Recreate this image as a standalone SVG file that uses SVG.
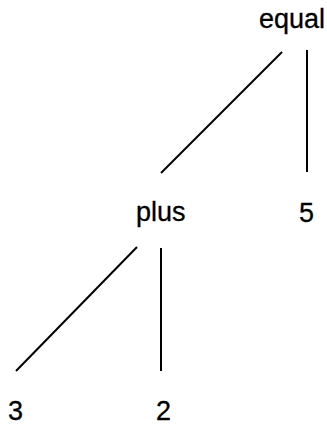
<svg xmlns="http://www.w3.org/2000/svg" width="327" height="425" viewBox="0 0 327 425">
<style>
.lbl{font-family:"Liberation Sans",Arial,sans-serif;font-size:27px;fill:#000;stroke:#000;stroke-width:0.3}
.edge{stroke:#000;stroke-width:2;fill:none;stroke-linecap:butt}
</style>
<rect width="327" height="425" fill="#fff"/>
<g id="edges">
<line class="edge" x1="282" y1="52" x2="161" y2="173"/>
<line class="edge" x1="307" y1="50" x2="307" y2="172"/>
<line class="edge" x1="137" y1="247" x2="16" y2="371"/>
<line class="edge" x1="161" y1="248" x2="161" y2="371"/>
</g>
<g id="equal"><text class="lbl" x="259" y="28">equal</text></g>
<g id="plus"><text class="lbl" x="136" y="221">plus</text></g>
<g id="five"><text class="lbl" x="299" y="222">5</text></g>
<g id="three"><text class="lbl" x="8" y="420">3</text></g>
<g id="two"><text class="lbl" x="156" y="420">2</text></g>
</svg>
